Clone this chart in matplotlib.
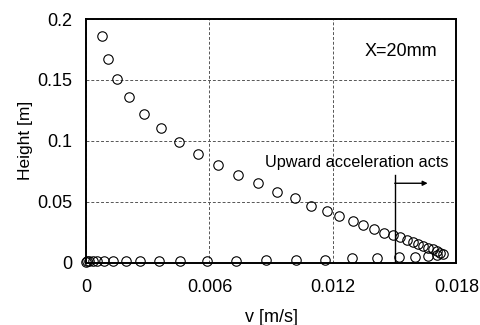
import matplotlib
matplotlib.use("Agg")
import matplotlib.pyplot as plt

plt.rcParams['font.family'] = ['Liberation Sans', 'DejaVu Sans']

# Upper branch (descending)
v_up = [0.00079, 0.00108, 0.00152, 0.00209, 0.00282, 0.00363, 0.00450, 0.00546,
        0.00643, 0.00740, 0.00834, 0.00926, 0.01015, 0.01092, 0.01169, 0.01231,
        0.01299, 0.01347, 0.01399, 0.01448, 0.01493, 0.01525, 0.01558, 0.01587,
        0.01614, 0.01639, 0.01663, 0.01684, 0.01704, 0.01720, 0.01733]
h_up = [0.1861, 0.1669, 0.1510, 0.1360, 0.1220, 0.1103, 0.0993, 0.0892,
        0.0802, 0.0722, 0.0652, 0.0583, 0.0528, 0.0468, 0.0424, 0.0381,
        0.0342, 0.0309, 0.0277, 0.0246, 0.0227, 0.0208, 0.0186, 0.0170,
        0.0153, 0.0137, 0.0123, 0.0110, 0.0098, 0.0082, 0.0069]

# Lower branch (near the floor)
v_low = [0.0, 0.00005, 0.00016, 0.00033, 0.00052, 0.00087, 0.00133, 0.00194,
         0.00262, 0.00353, 0.00457, 0.00588, 0.00730, 0.00876, 0.01020, 0.01161,
         0.01291, 0.01412, 0.01523, 0.01598, 0.01663, 0.01704]
h_low = [0.0008, 0.0010, 0.0012, 0.0013, 0.0014, 0.0014, 0.0015, 0.0016,
         0.0016, 0.0017, 0.0017, 0.0018, 0.0018, 0.0019, 0.0020, 0.0024,
         0.0036, 0.0036, 0.0044, 0.0050, 0.0052, 0.0063]

x_ticks = [0, 0.006, 0.012, 0.018]
x_labels = ['0', '0.006', '0.012', '0.018']
y_ticks = [0, 0.05, 0.1, 0.15, 0.2]
y_labels = ['0', '0.05', '0.1', '0.15', '0.2']

fig = plt.figure(figsize=(4.81, 3.25), dpi=100)
ax = fig.add_axes([0.1788, 0.1917, 0.7702, 0.7498])

ax.plot(v_up, h_up, linestyle='none', marker='o', markersize=6.8,
        markerfacecolor='none', markeredgecolor='black', markeredgewidth=0.8,
        clip_on=False, zorder=3)
ax.plot(v_low, h_low, linestyle='none', marker='o', markersize=6.8,
        markerfacecolor='none', markeredgecolor='black', markeredgewidth=0.8,
        clip_on=False, zorder=3)

ax.set_xlim(0, 0.018)
ax.set_ylim(0, 0.2)
ax.set_xticks(x_ticks)
ax.set_xticklabels(x_labels)
ax.set_yticks(y_ticks)
ax.set_yticklabels(y_labels)
ax.tick_params(axis='x', length=0, labelsize=13, pad=12)
ax.tick_params(axis='y', length=0, labelsize=13, pad=10)

ax.grid(True, linestyle=(0, (3, 2)), color='#555555', linewidth=0.7)
ax.set_axisbelow(True)
for s in ax.spines.values():
    s.set_linewidth(1.4)
    s.set_color('black')

ax.set_xlabel('v [m/s]', fontsize=13, labelpad=9)
ax.set_ylabel('Height [m]', fontsize=12.5, labelpad=3)

ax.text(0.01708, 0.173, 'X=20mm', fontsize=13, ha='right', va='center')

# annotation: upward acceleration
ax.plot([0.0150, 0.0150], [0, 0.072], color='black', linewidth=1.0, zorder=4)
ax.annotate('', xy=(0.0166, 0.0652), xytext=(0.0150, 0.0652),
            arrowprops=dict(arrowstyle='-|>', color='black', lw=1.0,
                            mutation_scale=7, shrinkA=0, shrinkB=0))
ax.text(0.0176, 0.082, 'Upward acceleration acts', fontsize=11.7,
        ha='right', va='center')

fig.savefig('out.png', dpi=100)
